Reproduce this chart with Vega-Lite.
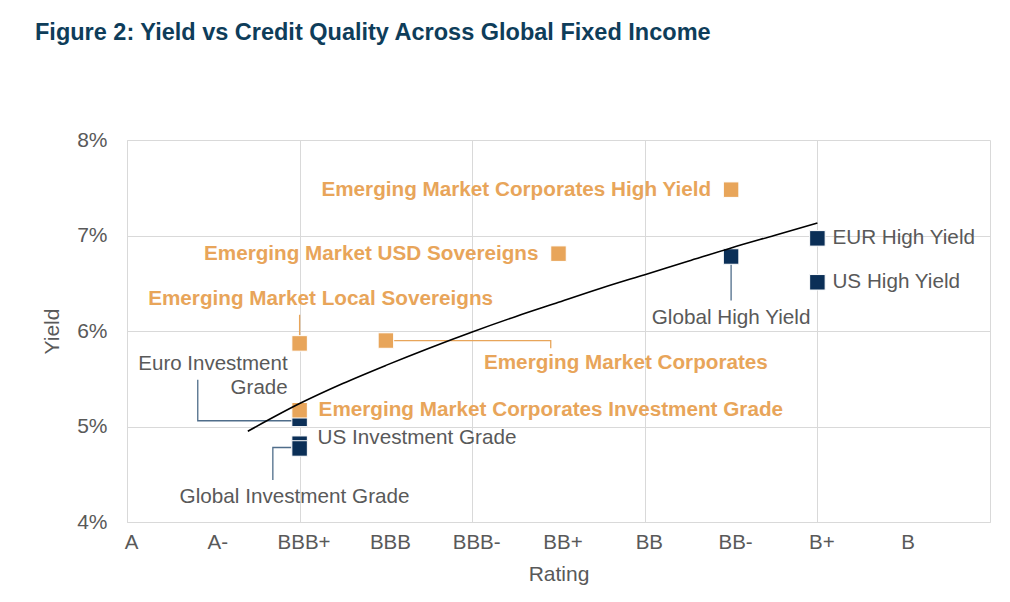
{
  "$schema": "https://vega.github.io/schema/vega-lite/v6.json",
  "autosize": {"type": "none"},
  "width": 863,
  "height": 382,
  "padding": {"left": 127, "top": 140, "right": 20, "bottom": 80},
  "background": "white",
  "title": {
    "text": "Figure 2: Yield vs Credit Quality Across Global Fixed Income",
    "anchor": "start",
    "frame": "group",
    "dx": -92,
    "offset": 85,
    "font": "Liberation Sans",
    "fontSize": 23.5,
    "fontWeight": "bold",
    "color": "#0E3D5A"
  },
  "config": {
    "view": {"stroke": null},
    "font": "Liberation Sans",
    "axis": {
      "labelFont": "Liberation Sans",
      "titleFont": "Liberation Sans",
      "labelColor": "#595959",
      "titleColor": "#595959",
      "titleFontWeight": "normal",
      "gridColor": "#d9d9d9",
      "domainColor": "#d9d9d9",
      "ticks": false
    }
  },
  "datasets": {
    "points": [
      {"name": "Emerging Market Corporates High Yield", "rating": 7, "yield": 7.48, "group": "EM"},
      {"name": "Emerging Market USD Sovereigns", "rating": 5, "yield": 6.81, "group": "EM"},
      {"name": "Emerging Market Local Sovereigns", "rating": 2, "yield": 5.87, "group": "EM"},
      {"name": "Emerging Market Corporates", "rating": 3, "yield": 5.9, "group": "EM"},
      {"name": "Euro Investment Grade", "rating": 2, "yield": 5.08, "group": "DM"},
      {"name": "Emerging Market Corporates Investment Grade", "rating": 2, "yield": 5.17, "group": "EM"},
      {"name": "US Investment Grade", "rating": 2, "yield": 4.82, "group": "DM"},
      {"name": "Global Investment Grade", "rating": 2, "yield": 4.77, "group": "DM"},
      {"name": "Global High Yield", "rating": 7, "yield": 6.78, "group": "DM"},
      {"name": "EUR High Yield", "rating": 8, "yield": 6.97, "group": "DM"},
      {"name": "US High Yield", "rating": 8, "yield": 6.51, "group": "DM"}
    ],
    "trend": [
      {"rating": 1.4, "yield": 4.95},
      {"rating": 2.0, "yield": 5.24},
      {"rating": 2.5, "yield": 5.45},
      {"rating": 3.0, "yield": 5.64},
      {"rating": 3.5, "yield": 5.82},
      {"rating": 4.0, "yield": 5.99},
      {"rating": 4.5, "yield": 6.15},
      {"rating": 5.0, "yield": 6.3},
      {"rating": 5.5, "yield": 6.45},
      {"rating": 6.0, "yield": 6.59},
      {"rating": 6.5, "yield": 6.73},
      {"rating": 7.0, "yield": 6.87},
      {"rating": 7.5, "yield": 7.0},
      {"rating": 8.0, "yield": 7.13}
    ],
    "leaders": [
      {"id": "EMLS", "step": 1, "rating": 2, "yield": 5.87, "group": "EM"},
      {"id": "EMLS", "step": 2, "rating": 2, "yield": 6.17, "group": "EM"},
      {"id": "EMC", "step": 1, "rating": 3, "yield": 5.9, "group": "EM"},
      {"id": "EMC", "step": 2, "rating": 4.91, "yield": 5.9, "group": "EM"},
      {"id": "EMC", "step": 3, "rating": 4.91, "yield": 5.82, "group": "EM"},
      {"id": "EIG", "step": 1, "rating": 2, "yield": 5.06, "group": "DM"},
      {"id": "EIG", "step": 2, "rating": 0.82, "yield": 5.06, "group": "DM"},
      {"id": "EIG", "step": 3, "rating": 0.82, "yield": 5.49, "group": "DM"},
      {"id": "GIG", "step": 1, "rating": 2, "yield": 4.78, "group": "DM"},
      {"id": "GIG", "step": 2, "rating": 1.69, "yield": 4.78, "group": "DM"},
      {"id": "GIG", "step": 3, "rating": 1.69, "yield": 4.44, "group": "DM"},
      {"id": "GHY", "step": 1, "rating": 7, "yield": 6.78, "group": "DM"},
      {"id": "GHY", "step": 2, "rating": 7, "yield": 6.32, "group": "DM"}
    ]
  },
  "encoding": {
    "x": {
      "field": "rating", "type": "quantitative",
      "scale": {"domain": [0, 10], "nice": false, "zero": false},
      "axis": {
        "title": "Rating",
        "values": [0, 1, 2, 3, 4, 5, 6, 7, 8, 9, 10],
        "labelExpr": "['A','A-','BBB+','BBB','BBB-','BB+','BB','BB-','B+','B',''][datum.value]",
        "labelFontSize": 20.5,
        "labelPadding": 10,
        "labelOffset": 4,
        "labelFlush": false,
        "labelOverlap": false,
        "titleFontSize": 21,
        "titlePadding": 11,
        "gridOpacity": {"condition": {"test": "datum.value % 2 === 0", "value": 1}, "value": 0}
      }
    },
    "y": {
      "field": "yield", "type": "quantitative",
      "scale": {"domain": [4, 8], "nice": false, "zero": false},
      "axis": {
        "title": "Yield",
        "values": [4, 5, 6, 7, 8],
        "labelExpr": "datum.value + '%'",
        "labelFontSize": 21,
        "labelPadding": 20,
        "labelFlush": false,
        "titleFontSize": 21,
        "titlePadding": 14
      }
    }
  },
  "layer": [
    {
      "data": {"name": "leaders"},
      "mark": {"type": "line", "strokeWidth": 1.3},
      "encoding": {
        "detail": {"field": "id"},
        "order": {"field": "step"},
        "stroke": {
          "field": "group", "type": "nominal",
          "scale": {"domain": ["EM", "DM"], "range": ["#E8A55A", "#4F6D8A"]},
          "legend": null
        }
      }
    },
    {
      "data": {"name": "points"},
      "mark": {"type": "point", "shape": "square", "filled": true, "size": 240, "opacity": 1, "stroke": "white", "strokeWidth": 1},
      "encoding": {
        "fill": {
          "field": "group", "type": "nominal",
          "scale": {"domain": ["EM", "DM"], "range": ["#E8A55A", "#0B2F57"]},
          "legend": null
        }
      }
    },
    {
      "data": {"name": "trend"},
      "mark": {"type": "line", "color": "black", "strokeWidth": 1.6, "interpolate": "monotone"},
      "encoding": {}
    },
    {
      "data": {"name": "points"},
      "transform": [{"filter": {"field": "name", "oneOf": ["Emerging Market Corporates High Yield", "Emerging Market USD Sovereigns"]}}],
      "mark": {"type": "text", "align": "right", "baseline": "middle", "dx": -20, "fontSize": 20.7, "fontWeight": "bold", "color": "#E8A55A"},
      "encoding": {"text": {"field": "name"}}
    },
    {
      "data": {"name": "points"},
      "transform": [{"filter": {"field": "name", "equal": "Emerging Market Local Sovereigns"}}],
      "mark": {"type": "text", "align": "center", "baseline": "middle", "dx": 21, "dy": -44, "fontSize": 20.7, "fontWeight": "bold", "color": "#E8A55A"},
      "encoding": {"text": {"field": "name"}}
    },
    {
      "data": {"name": "points"},
      "transform": [{"filter": {"field": "name", "equal": "Emerging Market Corporates"}}],
      "mark": {"type": "text", "align": "center", "baseline": "middle", "dx": 240, "dy": 22, "fontSize": 20.7, "fontWeight": "bold", "color": "#E8A55A"},
      "encoding": {"text": {"field": "name"}}
    },
    {
      "data": {"name": "points"},
      "transform": [{"filter": {"field": "name", "equal": "Emerging Market Corporates Investment Grade"}}],
      "mark": {"type": "text", "align": "left", "baseline": "middle", "dx": 19, "dy": 0, "fontSize": 20.7, "fontWeight": "bold", "color": "#E8A55A"},
      "encoding": {"text": {"field": "name"}}
    },
    {
      "data": {"name": "points"},
      "transform": [{"filter": {"field": "name", "equal": "Euro Investment Grade"}}],
      "mark": {"type": "text", "align": "right", "baseline": "middle", "dx": -12, "dy": -55, "fontSize": 20.5, "lineHeight": 24, "color": "#595959"},
      "encoding": {"text": {"value": ["Euro Investment", "Grade"]}}
    },
    {
      "data": {"name": "points"},
      "transform": [{"filter": {"field": "name", "equal": "US Investment Grade"}}],
      "mark": {"type": "text", "align": "left", "baseline": "middle", "dx": 18, "dy": -6, "fontSize": 20.7, "color": "#595959"},
      "encoding": {"text": {"field": "name"}}
    },
    {
      "data": {"name": "points"},
      "transform": [{"filter": {"field": "name", "equal": "Global Investment Grade"}}],
      "mark": {"type": "text", "align": "center", "baseline": "middle", "dx": -5, "dy": 49, "fontSize": 20.7, "color": "#595959"},
      "encoding": {"text": {"field": "name"}}
    },
    {
      "data": {"name": "points"},
      "transform": [{"filter": {"field": "name", "equal": "Global High Yield"}}],
      "mark": {"type": "text", "align": "center", "baseline": "middle", "dx": 0, "dy": 61, "fontSize": 20.7, "color": "#595959"},
      "encoding": {"text": {"field": "name"}}
    },
    {
      "data": {"name": "points"},
      "transform": [{"filter": {"field": "name", "oneOf": ["EUR High Yield", "US High Yield"]}}],
      "mark": {"type": "text", "align": "left", "baseline": "middle", "dx": 15, "dy": 0, "fontSize": 20.7, "color": "#595959"},
      "encoding": {"text": {"field": "name"}}
    }
  ]
}
